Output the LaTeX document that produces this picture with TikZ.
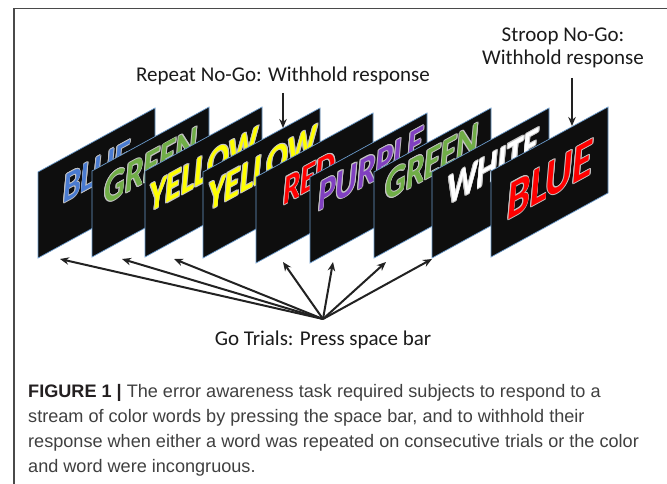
\documentclass[tikz,border=0pt]{standalone}
\usepackage{fontspec}
\setmainfont{Carlito}
\newfontfamily\capfont{Liberation Sans}
\usetikzlibrary{arrows.meta}
\definecolor{panelfill}{HTML}{0E0E0E}
\definecolor{paneledgec}{HTML}{6A9ACB}
\definecolor{glowgray}{HTML}{C4C4C4}
\definecolor{wblue}{HTML}{4A7BD0}
\definecolor{wgreen}{HTML}{70AD47}
\definecolor{wyellow}{HTML}{FFFF00}
\definecolor{wred}{HTML}{FF0000}
\definecolor{wpurple}{HTML}{8040C0}
\definecolor{wwhite}{HTML}{FFFFFF}
\definecolor{lblcol}{HTML}{1B1B1B}
\definecolor{arrowcol}{HTML}{222222}
\definecolor{framecol}{HTML}{4A4A4A}
\definecolor{captext}{HTML}{404040}
\definecolor{capbold}{HTML}{231F20}
\tikzset{
  paneledge/.style={draw=paneledgec, line width=0.7},
  wordart/.style={anchor=base west, inner sep=0pt, outer sep=0pt, transform shape},
  lbl/.style={text=lblcol, inner sep=0pt, font=\fontsize{21}{21}\selectfont},
  capline/.style={text=captext, inner sep=0pt, anchor=base west, font=\capfont\fontsize{18.1}{18.1}\selectfont},
  goarrow/.style={draw=arrowcol, line width=2, -{Stealth[length=9pt,width=7.5pt]}},
}
% #1 name, #2 x0, #3 yb, #4 colour, #5 word, #6 u, #7 v, #8 size
\newcommand\wordpanel[8]{%
\begin{scope}[shift={(#2,#3)}, yslant=0.547]
  \fill[panelfill] (0,0) -- (117,0) -- (117,-86) -- (0,-86) -- cycle;
  \begin{scope}
    \clip (0,0) -- (117,0) -- (117,-86) -- (0,-86) -- cycle;
    \foreach \dx/\dy [count=\i] in {0.9/0,-0.9/0,0/0.9,0/-0.9,0.65/0.65,-0.65/0.65,0.65/-0.65,-0.65/-0.65}
      \node[wordart, text=glowgray, xshift=\dx pt, yshift=\dy pt,
            font=\fontsize{#8}{#8}\selectfont\bfseries\itshape] (#1g\i) at (#6,-#7) {\scalebox{1}[1.3]{#5}};
    \node[wordart, text=#4, font=\fontsize{#8}{#8}\selectfont\bfseries\itshape] (#1) at (#6,-#7) {\scalebox{1}[1.3]{#5}};
  \end{scope}
  \draw[paneledge] (0,0) -- (117,0) -- (117,-86) -- (0,-86) -- cycle;
\end{scope}}
\begin{document}
\begin{tikzpicture}[x=1pt, y=-1pt]
\useasboundingbox (0,0) rectangle (667,484);
\fill[white] (0,0) rectangle (667,484);
% frame
\draw[framecol, line width=1.3] (667,8.5) -- (14,8.5) -- (14,484);

% panels
\wordpanel{p1}{38}{258}{wblue}{BLUE}{25}{41}{32}
\wordpanel{p2}{92}{257}{wgreen}{GREEN}{12}{45}{33}
\wordpanel{p3}{145}{257}{wyellow}{YELLOW}{4}{42}{32}
\wordpanel{p4}{203}{258}{wyellow}{YELLOW}{5}{44}{32}
\wordpanel{p5}{256}{263}{wred}{RED}{27}{43}{31}
\wordpanel{p6}{310}{263}{wpurple}{PURPLE}{8}{47}{33}
\wordpanel{p7}{374}{258}{wgreen}{GREEN}{11}{50}{33}
\wordpanel{p8}{432}{258}{wwhite}{WHITE}{15}{44}{33}
\wordpanel{p9}{491}{257}{wred}{BLUE}{16}{28}{41}

% labels
\node[lbl, anchor=base] (repeat) at (283,82) {Repeat No-Go: Withhold response};
\node[lbl, anchor=base] (stroop1) at (563,42) {Stroop No-Go:};
\node[lbl, anchor=base] (stroop2) at (563,65) {Withhold response};
\node[lbl, anchor=base] (go) at (323,345) {Go Trials: Press space bar};

% No-Go arrows
\coordinate (rs) at (283,93);
\coordinate (re) at (283,128);
\draw[goarrow] (rs) -- (re);
\coordinate (ss) at (572,78);
\coordinate (se) at (572,126);
\draw[goarrow] (ss) -- (se);

% Go arrows
\coordinate (o) at (323,319);
\coordinate (t1) at (60,259);
\coordinate (t2) at (122,259);
\coordinate (t3) at (174,259);
\coordinate (t4) at (283,262);
\coordinate (t5) at (333,262);
\coordinate (t6) at (386,262);
\coordinate (t7) at (432,259);
\foreach \t in {t1,t2,t3,t4,t5,t6,t7}
  \draw[goarrow] (o) -- (\t);

% caption
\node[capline] (cap1) at (28,397) {{\bfseries\color{capbold}FIGURE 1 |} The error awareness task required subjects to respond to a};
\node[capline] (cap2) at (28,422) {stream of color words by pressing the space bar, and to withhold their};
\node[capline] (cap3) at (28,447) {response when either a word was repeated on consecutive trials or the color};
\node[capline] (cap4) at (28,472) {and word were incongruous.};
\end{tikzpicture}
\end{document}
